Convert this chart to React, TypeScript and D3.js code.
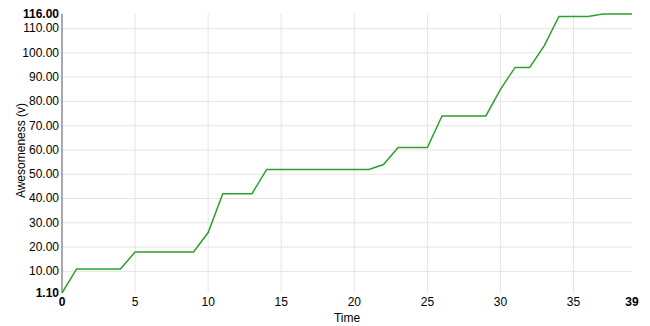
import React from "react";
import * as d3 from "d3";

const times: number[] = Array.from({ length: 40 }, (_, i) => i);
const awesomeness: number[] = [
  1.1, 11, 11, 11, 11, 18, 18, 18, 18, 18,
  26, 42, 42, 42, 52, 52, 52, 52, 52, 52,
  52, 52, 54, 61, 61, 61, 74, 74, 74, 74,
  85, 94, 94, 103, 115, 115, 115, 116, 116, 116,
];
const yTicks: number[] = [10, 20, 30, 40, 50, 60, 70, 80, 90, 100, 110];
const xTicks: number[] = [5, 10, 15, 20, 25, 30, 35];
const xTitle = "Time";
const yTitle = "Awesomeness (v)";

const W = 650;
const H = 326;
const M = { left: 62, top: 14, right: 18, bottom: 33 };

export default function App() {
  const innerW = W - M.left - M.right;
  const innerH = H - M.top - M.bottom;
  const yMin = d3.min(awesomeness) as number;
  const yMax = d3.max(awesomeness) as number;
  const x = d3.scaleLinear().domain([0, 39]).range([0, innerW]);
  const y = d3.scaleLinear().domain([yMin, yMax]).range([innerH, 0]);
  const line = d3
    .line<number>()
    .x((_, i) => x(times[i]))
    .y((d) => y(d));
  const font = "'Liberation Sans', Arial, sans-serif";

  return (
    <div style={{ position: "absolute", left: 0, top: 0 }}>
      <svg width={W} height={H} style={{ display: "block", fontFamily: font }}>
        <g transform={`translate(${M.left},${M.top})`}>
          {yTicks.map((t) => (
            <line key={"gy" + t} x1={0} x2={innerW} y1={y(t)} y2={y(t)} stroke="#e5e5e5" strokeWidth={1} />
          ))}
          {xTicks.map((t) => (
            <line key={"gx" + t} x1={x(t)} x2={x(t)} y1={0} y2={innerH} stroke="#e5e5e5" strokeWidth={1} />
          ))}
          <line x1={0} x2={0} y1={0} y2={innerH} stroke="#555" strokeWidth={1} />
          {yTicks.map((t) => (
            <text key={"ty" + t} x={-3} y={y(t)} dy="0.32em" textAnchor="end" fontSize={12} fill="#000">
              {d3.format(".2f")(t)}
            </text>
          ))}
          <text x={-3} y={y(yMax)} dy="0.32em" textAnchor="end" fontSize={12} fontWeight="bold" fill="#000">
            {d3.format(".2f")(yMax)}
          </text>
          <text x={-3} y={y(yMin)} dy="0.32em" textAnchor="end" fontSize={12} fontWeight="bold" fill="#000">
            {d3.format(".2f")(yMin)}
          </text>
          {xTicks.map((t) => (
            <text key={"tx" + t} x={x(t)} y={innerH + 13} textAnchor="middle" fontSize={12} fill="#000">
              {t}
            </text>
          ))}
          <text x={x(0)} y={innerH + 13} textAnchor="middle" fontSize={12} fontWeight="bold" fill="#000">
            0
          </text>
          <text x={x(39)} y={innerH + 13} textAnchor="middle" fontSize={12} fontWeight="bold" fill="#000">
            39
          </text>
          <text x={innerW / 2} y={innerH + 29} textAnchor="middle" fontSize={12} fill="#000">
            {xTitle}
          </text>
          <text
            transform={`translate(${-37},${innerH / 2 - 3}) rotate(-90)`}
            textAnchor="middle"
            fontSize={12}
            fill="#000"
          >
            {yTitle}
          </text>
          <path d={line(awesomeness) || ""} fill="none" stroke="#2ca02c" strokeWidth={1.5} />
        </g>
      </svg>
    </div>
  );
}
